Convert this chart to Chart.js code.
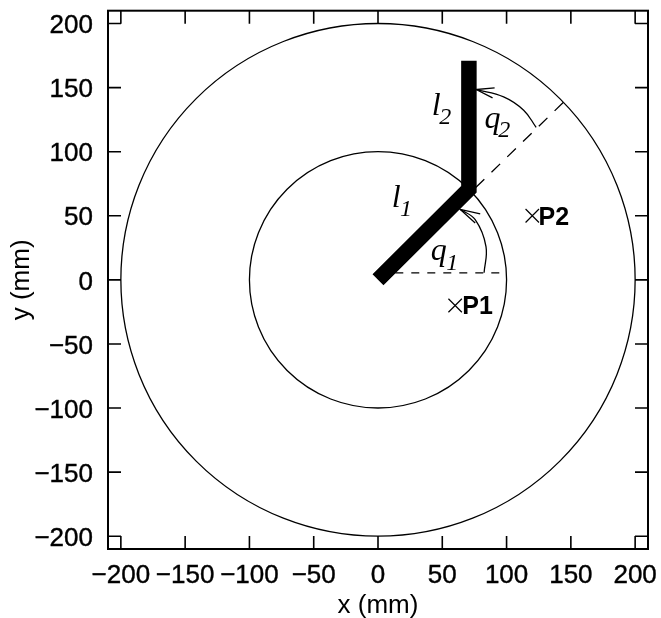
<!DOCTYPE html>
<html>
<head>
<meta charset="utf-8">
<title>Two link arm workspace</title>
<script src="https://cdn.jsdelivr.net/npm/chart.js@4"></script>
<style>
  html, body { margin: 0; padding: 0; background: #fff; }
  canvas { display: block; }
</style>
</head>
<body>
<canvas id="arm" width="661" height="618"></canvas>
<script>
'use strict';

// everything is in mm
const tickValues = [-200, -150, -100, -50, 0, 50, 100, 150, 200];
const circleRadii = [100, 200];
const linkX = [0, 70.7, 70.7];
const linkY = [0, 70.7, 171];
const baseDashX = [1, 100];
const baseDashY = [5.5, 5.5];
const elbowDashX = [76, 144.5];
const elbowDashY = [72, 138.8];
const q1ArcX = [82.5, 84, 75.6, 64];
const q1ArcY = [5.5, 26, 47, 55];
const q1HeadX = [79.5, 64, 75.6];
const q1HeadY = [51.4, 55, 44.4];
const q2ArcX = [123, 113.3, 97.7, 76.4];
const q2ArcY = [119, 132.4, 142.8, 148.5];
const q2HeadX = [90.7, 76.4, 89.1];
const q2HeadY = [149.8, 148.5, 142];
const targetX = [60, 120];
const targetY = [-20, 50];
const targetNames = ['P1', 'P2'];
const targetNameX = [65.5, 124.8];
const targetNameY = [-27, 42.8];
const mathText = ['l', '2', 'q', '2', 'l', '1', 'q', '1'];
const mathX = [41.9, 47.6, 82.9, 93.6, 10.7, 17.2, 41.1, 53];
const mathY = [128.5, 121.5, 118.4, 111.4, 57, 49.8, 15.6, 7.8];
const mathIsSub = [false, true, false, true, false, true, false, true];

const sans = '"Liberation Sans", Arial, sans-serif';
const serif = '"Liberation Serif", "Times New Roman", serif';

function toPoints(xs, ys) {
    return xs.map((x, i) => ({ x: x, y: ys[i] }));
}

function thinLine(xs, ys, extra) {
    return Object.assign({
        data: toPoints(xs, ys),
        showLine: true,
        borderColor: '#000',
        borderWidth: 1.3,
        pointRadius: 0,
        fill: false
    }, extra);
}

// circles, frame, inward ticks and the text inside the plot
const armPlugin = {
    id: 'armPlugin',
    beforeDatasetsDraw(chart) {
        const ctx = chart.ctx;
        const x = chart.scales.x;
        const y = chart.scales.y;
        ctx.save();
        ctx.strokeStyle = '#000';
        ctx.lineWidth = 1.3;
        circleRadii.forEach(r => {
            ctx.beginPath();
            ctx.ellipse(x.getPixelForValue(0), y.getPixelForValue(0),
                x.getPixelForValue(r) - x.getPixelForValue(0),
                y.getPixelForValue(0) - y.getPixelForValue(r),
                0, 0, Math.PI * 2);
            ctx.stroke();
        });
        ctx.restore();
    },
    afterDraw(chart) {
        const ctx = chart.ctx;
        const x = chart.scales.x;
        const y = chart.scales.y;
        const area = chart.chartArea;
        const tickLen = 13;
        ctx.save();
        ctx.strokeStyle = '#000';
        ctx.lineWidth = 1.6;
        ctx.beginPath();
        tickValues.forEach(v => {
            const px = x.getPixelForValue(v);
            const py = y.getPixelForValue(v);
            ctx.moveTo(px, area.bottom);
            ctx.lineTo(px, area.bottom - tickLen);
            ctx.moveTo(px, area.top);
            ctx.lineTo(px, area.top + tickLen);
            ctx.moveTo(area.left, py);
            ctx.lineTo(area.left + tickLen, py);
            ctx.moveTo(area.right, py);
            ctx.lineTo(area.right - tickLen, py);
        });
        ctx.stroke();
        ctx.lineWidth = 2;
        ctx.strokeRect(area.left, area.top, area.right - area.left, area.bottom - area.top);

        ctx.fillStyle = '#000';
        ctx.textAlign = 'left';
        ctx.textBaseline = 'alphabetic';
        ctx.font = 'bold 25px ' + sans;
        targetNames.forEach((name, i) => {
            ctx.fillText(name, x.getPixelForValue(targetNameX[i]), y.getPixelForValue(targetNameY[i]));
        });
        mathText.forEach((t, i) => {
            ctx.font = 'italic ' + (mathIsSub[i] ? 24 : 32) + 'px ' + serif;
            ctx.fillText(t, x.getPixelForValue(mathX[i]), y.getPixelForValue(mathY[i]));
        });
        ctx.restore();
    }
};

function minusLabel(value) {
    return String(value).replace('-', '\u2212');
}

function useTickValues(scale) {
    scale.ticks = tickValues.map(v => ({ value: v }));
}

// stop the tick labels from pushing the plot area inwards
function clearPadding(scale) {
    scale.paddingTop = 0;
    scale.paddingBottom = 0;
    scale.paddingLeft = 0;
    scale.paddingRight = 0;
}

new Chart(document.getElementById('arm').getContext('2d'), {
    type: 'scatter',
    data: {
        datasets: [
            thinLine(baseDashX, baseDashY, { borderDash: [8, 8] }),
            thinLine(elbowDashX, elbowDashY, { borderDash: [12, 10] }),
            thinLine(q1ArcX, q1ArcY, { tension: 0.4 }),
            thinLine(q1HeadX, q1HeadY, {}),
            thinLine(q2ArcX, q2ArcY, { tension: 0.4 }),
            thinLine(q2HeadX, q2HeadY, {}),
            {
                data: toPoints(linkX, linkY),
                showLine: true,
                borderColor: '#000',
                borderWidth: 15.5,
                borderCapStyle: 'butt',
                borderJoinStyle: 'miter',
                pointRadius: 0
            },
            {
                data: toPoints(targetX, targetY),
                showLine: false,
                pointStyle: 'crossRot',
                pointRadius: 9.5,
                pointBorderColor: '#000',
                pointBorderWidth: 1.2
            }
        ]
    },
    options: {
        responsive: false,
        animation: false,
        layout: { padding: { top: 10, right: 13, left: 0, bottom: 0 } },
        plugins: { legend: { display: false }, tooltip: { enabled: false } },
        scales: {
            x: {
                type: 'linear',
                min: -210,
                max: 210,
                afterBuildTicks: useTickValues,
                afterFit(scale) { scale.height = 69; clearPadding(scale); },
                grid: { display: false },
                border: { display: false },
                ticks: {
                    callback: minusLabel,
                    color: '#000',
                    font: { family: sans, size: 26 },
                    textStrokeColor: '#000',
                    textStrokeWidth: 0.4,
                    padding: 3,
                    maxRotation: 0,
                    autoSkip: false
                },
                title: {
                    display: true,
                    text: 'x (mm)',
                    color: '#000',
                    font: { family: sans, size: 26, lineHeight: 0.95 },
                    padding: { top: 0, bottom: 0 }
                }
            },
            y: {
                type: 'linear',
                min: -210,
                max: 210,
                afterBuildTicks: useTickValues,
                afterFit(scale) { scale.width = 108; clearPadding(scale); },
                grid: { display: false },
                border: { display: false },
                ticks: {
                    callback: minusLabel,
                    color: '#000',
                    font: { family: sans, size: 26 },
                    textStrokeColor: '#000',
                    textStrokeWidth: 0.4,
                    padding: 7,
                    labelOffset: 2.5,
                    autoSkip: false
                },
                title: {
                    display: true,
                    text: 'y (mm)',
                    color: '#000',
                    font: { family: sans, size: 26 },
                    padding: { top: 6, bottom: 0 }
                }
            }
        }
    },
    plugins: [armPlugin]
});
</script>
</body>
</html>
